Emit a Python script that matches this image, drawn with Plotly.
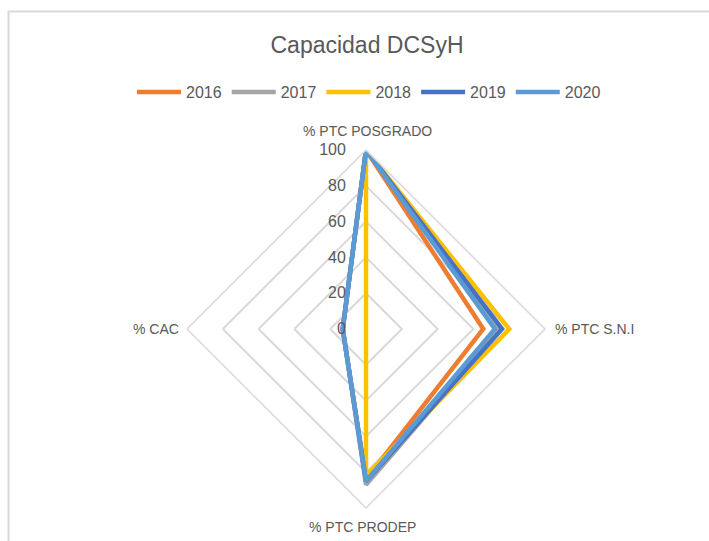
import plotly.graph_objects as go

categories = ["% PTC POSGRADO", "% PTC S.N.I", "% PTC PRODEP", "% CAC"]
years = ["2016", "2017", "2018", "2019", "2020"]
v2016 = [100, 65.5, 84, 13]
v2017 = [100, 75, 87, 13]
v2018 = [100, 80, 82, 0]
v2019 = [100, 76, 85, 13]
v2020 = [100, 72, 85, 13]
series = [v2016, v2017, v2018, v2019, v2020]
colors = ["#ED7D31", "#A5A5A5", "#FFC000", "#4472C4", "#5B9BD5"]
tick_vals = [0, 20, 40, 60, 80, 100]

W, H = 709, 541
cx, cy, R = 366, 329, 179

fig = go.Figure()
for name, vals, col in zip(years, series, colors):
    fig.add_trace(go.Scatterpolar(
        r=vals + vals[:1], theta=categories + categories[:1],
        mode="lines", name=name,
        line=dict(color=col, width=4.5),
    ))

# category labels placed as annotations (Excel puts them further out)
label_pos = [
    (cx + 1, cy - 198, "center", "middle"),
    (cx + 187, cy, "left", "middle"),
    (cx - 4, cy + 198, "center", "middle"),
    (cx - 185, cy, "right", "middle"),
]
annotations = []
for cat, (x, y, xa, ya) in zip(categories, label_pos):
    annotations.append(dict(text=cat, xref="paper", yref="paper",
                            x=x / W, y=1 - y / H, xanchor=xa, yanchor=ya,
                            showarrow=False,
                            font=dict(size=14, color="#595959")))

fig.update_layout(
    width=W, height=H,
    margin=dict(l=0, r=0, t=0, b=0),
    paper_bgcolor="white",
    font=dict(family="Liberation Sans, Arial, sans-serif", color="#595959"),
    title=dict(text="Capacidad DCSyH", x=(cx + 1) / W, xanchor="center",
               y=1 - 45 / H, yanchor="middle",
               font=dict(size=23, color="#595959")),
    legend=dict(orientation="h", x=(cx + 3) / W, xanchor="center",
                y=1 - 92 / H, yanchor="middle",
                font=dict(size=16, color="#595959"),
                itemwidth=44, bgcolor="rgba(0,0,0,0)"),
    polar=dict(
        domain=dict(x=[(cx - R) / W, (cx + R) / W],
                    y=[1 - (cy + R) / H, 1 - (cy - R) / H]),
        gridshape="linear",
        bgcolor="white",
        radialaxis=dict(range=[0, 100], tickvals=tick_vals, angle=90,
                        tickangle=90, showline=False, ticks="outside",
                        ticklen=14, tickcolor="rgba(0,0,0,0)",
                        gridcolor="#D9D9D9", gridwidth=1.5,
                        tickfont=dict(size=16, color="#595959"),
                        side="counterclockwise"),
        angularaxis=dict(rotation=90, direction="clockwise",
                         showgrid=False, showline=True,
                         showticklabels=False,
                         linecolor="#D9D9D9", linewidth=1.5, ticks=""),
    ),
    annotations=annotations,
    shapes=[dict(type="rect", xref="paper", yref="paper",
                 x0=8.5 / W, x1=1.1, y0=-0.1, y1=1 - 11.5 / H,
                 line=dict(color="#D9D9D9", width=2), layer="below")],
)

fig.write_html("out.html", config={"displayModeBar": False},
               post_script="document.body.style.margin='0';document.body.style.overflow='hidden';")
